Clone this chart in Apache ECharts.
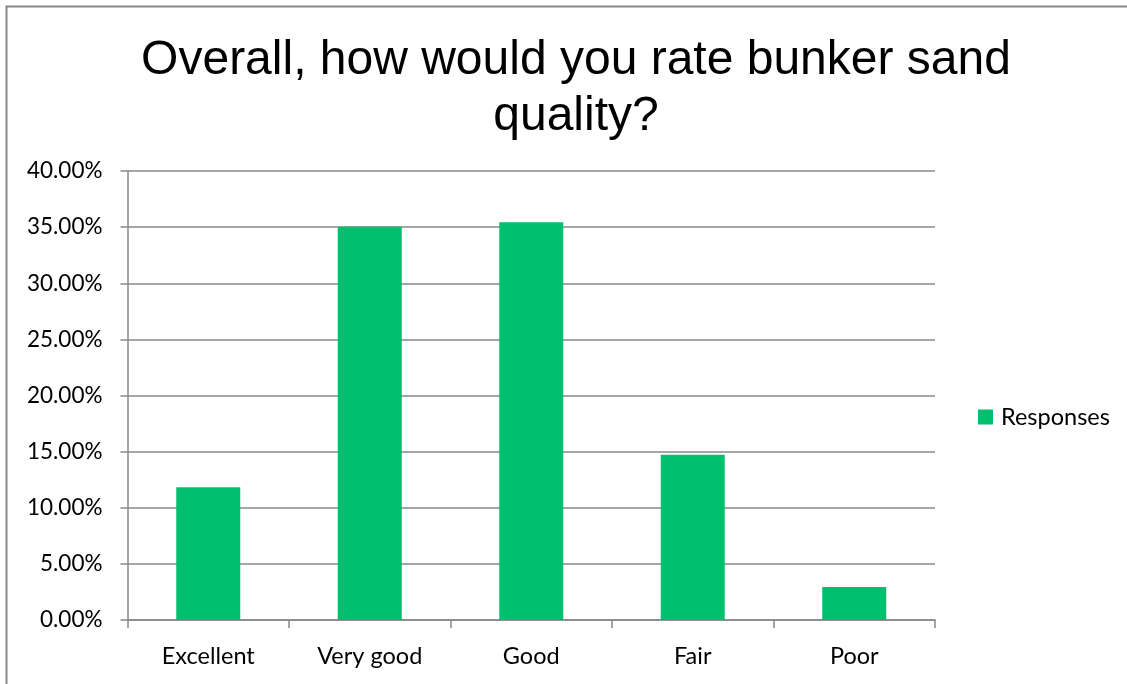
<!DOCTYPE html>
<html><head><meta charset="utf-8">
<script src="https://cdn.jsdelivr.net/npm/echarts@6/dist/echarts.min.js"></script>
<style>html,body{margin:0;padding:0;background:#fff}#c{width:1127px;height:684px}</style>
</head><body><div id="c"></div>
<script>
const categories = ['Excellent', 'Very good', 'Good', 'Fair', 'Poor'];
const responses = [11.82, 35.03, 35.43, 14.73, 2.93];
const seriesName = 'Responses';
const titleLines = ['Overall, how would you rate bunker sand', 'quality?'];

const chart = echarts.init(document.getElementById('c'), null, {renderer: 'canvas'});
chart.setOption({
  animation: false,
  backgroundColor: '#fff',
  graphic: [
    {type: 'rect', shape: {x: 6.5, y: 6.5, width: 1300, height: 900}, style: {fill: 'none', stroke: '#888', lineWidth: 2}, z: 0}
  ],
  title: {
    text: titleLines.join('\n'),
    left: 571, top: 28, textAlign: 'center',
    textStyle: {fontFamily: 'Liberation Sans', fontSize: 48, fontWeight: 'normal', color: '#000', lineHeight: 56}
  },
  legend: {
    data: [seriesName], orient: 'vertical', left: 973, top: 400,
    itemWidth: 15, itemHeight: 15, itemGap: 5, icon: 'rect',
    textStyle: {fontFamily: 'Lato', fontSize: 23.5, color: '#000', padding: [0, 0, 0, 3]}
  },
  grid: {left: 127.5, right: 1127 - 935, top: 171, bottom: 684 - 620, containLabel: false},
  xAxis: {
    type: 'category', data: categories, boundaryGap: true,
    axisLine: {lineStyle: {color: '#888', width: 1.5}},
    axisTick: {show: true, length: 8, lineStyle: {color: '#888', width: 1.5}, alignWithLabel: false},
    axisLabel: {fontFamily: 'Lato', fontSize: 23.5, color: '#000', margin: 24}
  },
  yAxis: {
    type: 'value', min: 0, max: 40, interval: 5,
    axisLine: {show: true, lineStyle: {color: '#888', width: 1.5}},
    axisTick: {show: true, length: 7, lineStyle: {color: '#888', width: 1.5}},
    splitLine: {show: true, lineStyle: {color: '#888', width: 1.5}},
    axisLabel: {fontFamily: 'Lato', fontSize: 22.5, color: '#000', margin: 25, formatter: v => v.toFixed(2) + '%'}
  },
  series: [{
    name: seriesName, type: 'bar', data: responses, barWidth: 64,
    itemStyle: {color: '#00BF6F'}
  }]
});
</script></body></html>
